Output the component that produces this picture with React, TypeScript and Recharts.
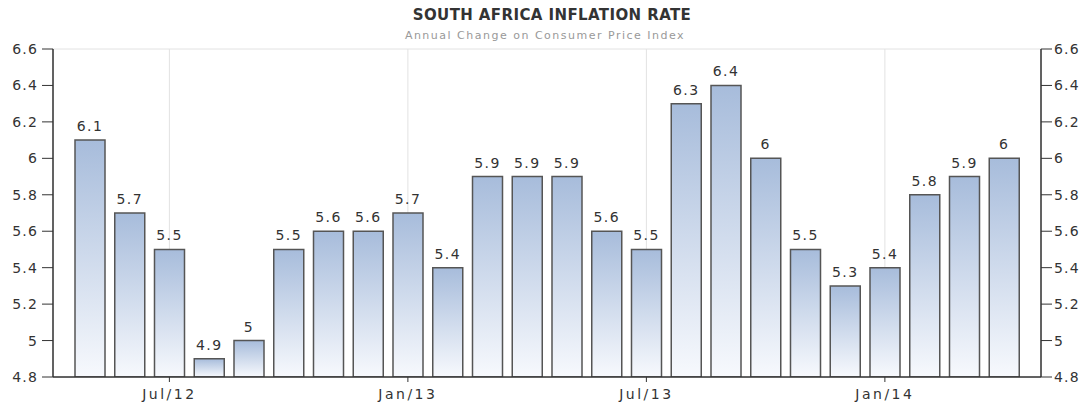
import React from 'react';
import { BarChart, Bar, XAxis, YAxis, CartesianGrid, LabelList } from 'recharts';

const months = [
  '2012-05', '2012-06', '2012-07', '2012-08', '2012-09', '2012-10', '2012-11', '2012-12',
  '2013-01', '2013-02', '2013-03', '2013-04', '2013-05', '2013-06', '2013-07', '2013-08',
  '2013-09', '2013-10', '2013-11', '2013-12', '2014-01', '2014-02', '2014-03', '2014-04',
];
const inflation = [6.1, 5.7, 5.5, 4.9, 5, 5.5, 5.6, 5.6, 5.7, 5.4, 5.9, 5.9, 5.9, 5.6, 5.5, 6.3, 6.4, 6, 5.5, 5.3, 5.4, 5.8, 5.9, 6];
const xTicks = ['2012-07', '2013-01', '2013-07', '2014-01'];
const xTickLabels: Record<string, string> = {
  '2012-07': 'Jul/12',
  '2013-01': 'Jan/13',
  '2013-07': 'Jul/13',
  '2014-01': 'Jan/14',
};
const yTicks = [4.8, 5, 5.2, 5.4, 5.6, 5.8, 6, 6.2, 6.4, 6.6];
const title = 'SOUTH AFRICA INFLATION RATE';
const subtitle = 'Annual Change on Consumer Price Index';

const data = months.map((m, i) => ({ month: m, value: inflation[i] }));

const FONT = '"DejaVu Sans", Verdana, sans-serif';

export default function App() {
  return (
    <div style={{ position: 'absolute', left: 0, top: 0, width: 1086, height: 406, background: '#fff', fontFamily: FONT }}>
      <div style={{ position: 'absolute', left: 0, width: 1086, top: 6, textAlign: 'center', fontSize: 15, fontWeight: 'bold', color: '#333', letterSpacing: 0.4, paddingLeft: 18, boxSizing: 'border-box', whiteSpace: 'nowrap' }}>
        {title}
      </div>
      <div style={{ position: 'absolute', left: 0, width: 1086, top: 29, textAlign: 'center', fontSize: 11, color: '#999', letterSpacing: 1.5, paddingLeft: 4, boxSizing: 'border-box', whiteSpace: 'nowrap' }}>
        {subtitle}
      </div>
      <BarChart
        width={1086}
        height={406}
        data={data}
        margin={{ top: 49, right: 0, bottom: 0, left: 8 }}
        barSize={30}
      >
        <defs>
          <linearGradient id="barGrad" x1="0" y1="0" x2="0" y2="1">
            <stop offset="0%" stopColor="#a7bcdb" />
            <stop offset="100%" stopColor="#f7f9fd" />
          </linearGradient>
        </defs>
        <CartesianGrid stroke="#e2e2e2" />
        <XAxis
          dataKey="month"
          ticks={xTicks}
          interval={0}
          tickFormatter={(v: string) => xTickLabels[v] ?? ''}
          padding={{ left: 17, right: 17 }}
          height={29}
          axisLine={{ stroke: '#333', strokeWidth: 1.5 }}
          tickLine={{ stroke: '#333' }}
          tickSize={5}
          tick={{ fill: '#333', fontSize: 14, fontFamily: FONT, letterSpacing: 2.5 }}
          tickMargin={7}
        />
        <YAxis
          yAxisId="left"
          orientation="left"
          domain={[4.8, 6.6]}
          ticks={yTicks}
          interval={0}
          width={45}
          axisLine={{ stroke: '#333', strokeWidth: 1.5 }}
          tickLine={{ stroke: '#333' }}
          tickSize={11}
          tickMargin={4}
          tick={{ fill: '#333', fontSize: 14, fontFamily: FONT, letterSpacing: 1.2 }}
          allowDataOverflow
        />
        <YAxis
          yAxisId="right"
          orientation="right"
          domain={[4.8, 6.6]}
          ticks={yTicks}
          interval={0}
          width={45}
          axisLine={{ stroke: '#333', strokeWidth: 1.5 }}
          tickLine={{ stroke: '#333' }}
          tickSize={11}
          tickMargin={2}
          tick={{ fill: '#333', fontSize: 14, fontFamily: FONT, letterSpacing: 1.2 }}
          allowDataOverflow
        />
        <Bar
          yAxisId="left"
          dataKey="value"
          fill="url(#barGrad)"
          stroke="#555"
          strokeWidth={1.5}
          isAnimationActive={false}
        >
          <LabelList dataKey="value" position="top" offset={9} fill="#333" fontSize={14} fontFamily={FONT} letterSpacing={1.4} />
        </Bar>
      </BarChart>
    </div>
  );
}
